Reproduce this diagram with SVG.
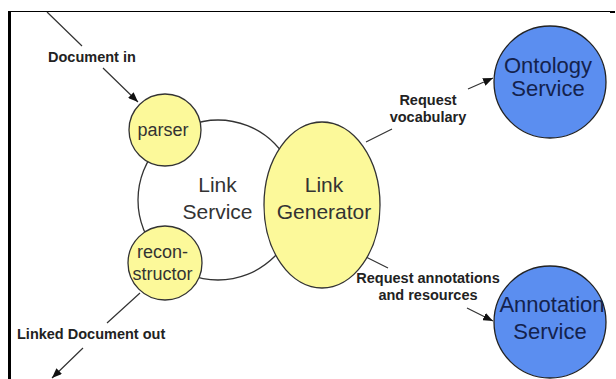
<svg xmlns="http://www.w3.org/2000/svg" width="616" height="379" viewBox="0 0 616 379">
  <defs>
    <marker id="arrow" viewBox="0 0 10 8" refX="10" refY="4" markerWidth="10" markerHeight="8" markerUnits="userSpaceOnUse" orient="auto">
      <path d="M0,0 L10,4 L0,8 Z" fill="#111"/>
    </marker>
    <style>
      .frame { stroke: #000; fill: none; }
      .ring { fill: #fff; stroke: #333; stroke-width: 1.3; }
      .yellow { fill: #fcf99a; stroke: #333; stroke-width: 1.3; }
      .blue { fill: #5b8ef0; stroke: #222; stroke-width: 1.3; }
      .conn { stroke: #333; stroke-width: 1.2; fill: none; }
      .lbl { font-family: "Liberation Sans", Arial, sans-serif; font-weight: bold; font-size: 14.5px; fill: #222; }
      .txt { font-family: "Liberation Sans", Arial, sans-serif; fill: #333; text-anchor: middle; }
      .svc { font-family: "Liberation Sans", Arial, sans-serif; fill: #14224d; text-anchor: middle; font-size: 22px; }
      .mid { text-anchor: middle; }
    </style>
  </defs>

  <!-- page frame -->
  <g id="frame">
    <line class="frame" x1="8" y1="11.5" x2="611" y2="11.5" stroke-width="1.2"/>
    <line class="frame" x1="610" y1="12" x2="615" y2="12" stroke-width="2"/>
    <line class="frame" x1="9.5" y1="11" x2="9.5" y2="379" stroke-width="3"/>
  </g>

  <!-- Link Service container ring -->
  <g id="link-service">
    <circle class="ring" cx="218" cy="200" r="80"/>
    <text class="txt" x="217.5" y="192" font-size="21">Link</text>
    <text class="txt" x="217.5" y="219" font-size="21">Service</text>
  </g>

  <!-- connectors -->
  <g id="connectors">
    <path class="conn" d="M47,12 L82,46 M103,68 L138,102" marker-end="url(#arrow)"/>
    <path class="conn" d="M140,293 L107,323 M83,348 L52,378" marker-end="url(#arrow)"/>
    <path class="conn" d="M366,142 L392,129 M468,89 L493,78" marker-end="url(#arrow)"/>
    <path class="conn" d="M366,257 L388,268 M467,308 L493,321" marker-end="url(#arrow)"/>
    <text class="lbl" x="48" y="62">Document in</text>
    <text class="lbl" x="17" y="339">Linked Document out</text>
    <text class="lbl mid" x="428" y="105">Request</text>
    <text class="lbl mid" x="428" y="122">vocabulary</text>
    <text class="lbl mid" x="428" y="283">Request annotations</text>
    <text class="lbl mid" x="428" y="300">and resources</text>
  </g>

  <g id="parser">
    <circle class="yellow" cx="165" cy="130" r="36"/>
    <text class="txt" x="163" y="136" font-size="18">parser</text>
  </g>

  <g id="reconstructor">
    <circle class="yellow" cx="165" cy="263" r="37"/>
    <text class="txt" x="162.5" y="258" font-size="18">recon-</text>
    <text class="txt" x="162.5" y="280" font-size="18">structor</text>
  </g>

  <g id="link-generator">
    <ellipse class="yellow" cx="322" cy="205" rx="58" ry="83"/>
    <text class="txt" x="324" y="192" font-size="21">Link</text>
    <text class="txt" x="324" y="219" font-size="21">Generator</text>
  </g>

  <g id="ontology-service">
    <circle class="blue" cx="550" cy="82" r="56"/>
    <text class="svc" x="548" y="73">Ontology</text>
    <text class="svc" x="548" y="96">Service</text>
  </g>

  <g id="annotation-service">
    <circle class="blue" cx="550" cy="322" r="56"/>
    <text class="svc" x="552" y="312">Annotation</text>
    <text class="svc" x="550" y="339">Service</text>
  </g>
</svg>
